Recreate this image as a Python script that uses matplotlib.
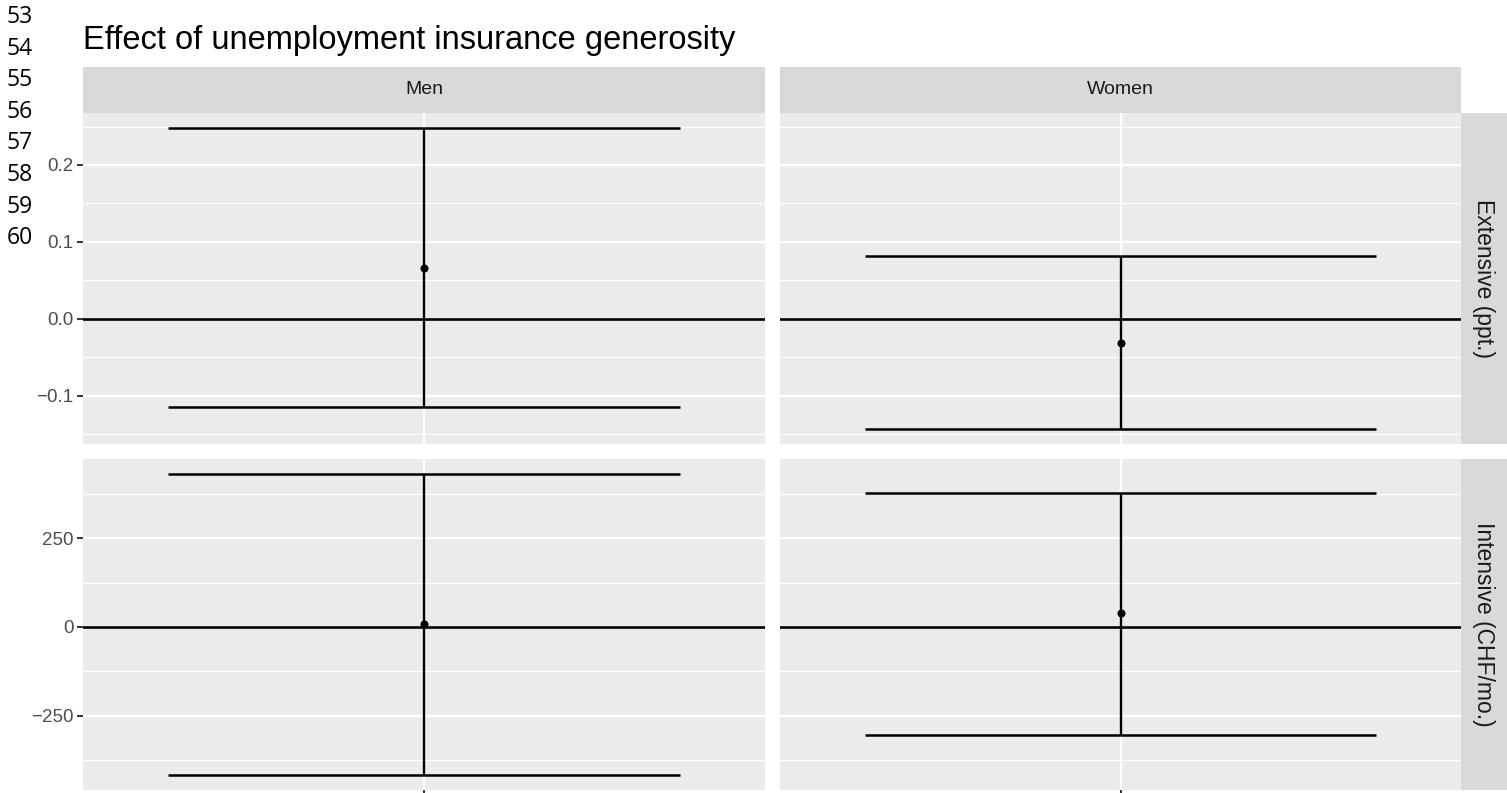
import matplotlib
matplotlib.use("Agg")
import matplotlib.pyplot as plt
import matplotlib.ticker as ticker

plt.rcParams['font.family'] = ['Liberation Sans', 'DejaVu Sans']

# Dati: stime e intervalli di confidenza per sesso e outcome
sexes = ["Men", "Women"]
outcomes = ["Extensive (ppt.)", "Intensive (CHF/mo.)"]
ext_est = [0.066, -0.031]
ext_lo = [-0.115, -0.143]
ext_hi = [0.248, 0.082]
int_est = [8, 39]
int_lo = [-416, -303]
int_hi = [430, 376]
line_numbers = ["53", "54", "55", "56", "57", "58", "59", "60"]
title = "Effect of unemployment insurance generosity"

rows = [(ext_est, ext_lo, ext_hi, 0.1), (int_est, int_lo, int_hi, 250)]

W, H = 1507, 793
fig = plt.figure(figsize=(W / 100, H / 100), dpi=100)


def px_axes(x0, y0, x1, y1):
    return fig.add_axes([x0 / W, 1 - y1 / H, (x1 - x0) / W, (y1 - y0) / H])


def minus_fmt(fmt):
    def f(v, pos):
        s = fmt % v
        if s.startswith('-') and float(s) == 0:
            s = s[1:]
        return s.replace('-', '\u2212')
    return ticker.FuncFormatter(f)


col_x = [(83, 765), (780, 1461)]
row_y = [(113, 444), (459, 790)]

for r, (est, lo, hi, step) in enumerate(rows):
    # limiti con espansione del 5% come in ggplot (scale libere per riga)
    ymin, ymax = min(lo), max(hi)
    pad = (ymax - ymin) * 0.05
    for c in range(2):
        x0, x1 = col_x[c]
        y0, y1 = row_y[r]
        ax = px_axes(x0, y0, x1, y1)
        ax.set_facecolor('#EBEBEB')
        for s in ax.spines.values():
            s.set_visible(False)
        ax.set_xlim(0.4, 1.6)
        ax.set_ylim(ymin - pad, ymax + pad)
        ax.yaxis.set_major_locator(ticker.MultipleLocator(step))
        ax.yaxis.set_minor_locator(ticker.AutoMinorLocator(2))
        ax.set_xticks([1])
        ax.grid(which='major', color='white', linewidth=1.6)
        ax.grid(which='minor', axis='y', color='white', linewidth=0.8)
        ax.set_axisbelow(True)
        ax.tick_params(which='minor', length=0)
        ax.tick_params(which='major', length=4.5, width=1.4, color='#333333',
                       labelcolor='#4D4D4D', labelsize=13.5, pad=2.5)
        ax.yaxis.set_major_formatter(minus_fmt('%.1f' if r == 0 else '%d'))
        ax.set_xticklabels([''])
        if c == 1:
            ax.tick_params(axis='y', left=False, labelleft=False)
        if r == 0:
            ax.tick_params(axis='x', bottom=False)

        ax.axhline(0, color='black', linewidth=1.9, zorder=2)
        ax.vlines(1, lo[c], hi[c], color='black', linewidth=1.7, zorder=3)
        ax.hlines([lo[c], hi[c]], 0.55, 1.45, color='black', linewidth=1.8, zorder=3)
        ax.plot(1, est[c], 'o', color='black', markersize=4.8, zorder=4)

    # strip a destra
    sx = px_axes(1461, row_y[r][0], 1507, row_y[r][1])
    sx.set_facecolor('#D9D9D9')
    sx.set_xticks([])
    sx.set_yticks([])
    for s in sx.spines.values():
        s.set_visible(False)
    sx.text(0.5, 0.5, outcomes[r], rotation=-90, ha='center', va='center',
            fontsize=16.5, color='#1A1A1A', transform=sx.transAxes)

# strip in alto
for c in range(2):
    x0, x1 = col_x[c]
    st = px_axes(x0, 67, x1, 113)
    st.set_facecolor('#D9D9D9')
    st.set_xticks([])
    st.set_yticks([])
    for s in st.spines.values():
        s.set_visible(False)
    st.text(0.5, 0.5, sexes[c], ha='center', va='center', fontsize=14,
            color='#1A1A1A', transform=st.transAxes)

fig.text(83 / W, 1 - 40 / H, title, fontsize=23.5, va='center', ha='left', color='black')

# numeri di riga del documento
for i, n in enumerate(line_numbers):
    fig.text(7 / W, 1 - (17 + i * 31.6) / H, n, fontsize=16.5, va='center', ha='left',
             family=['Open Sans', 'DejaVu Sans'], color='black')

fig.savefig('out.png', dpi=100)
